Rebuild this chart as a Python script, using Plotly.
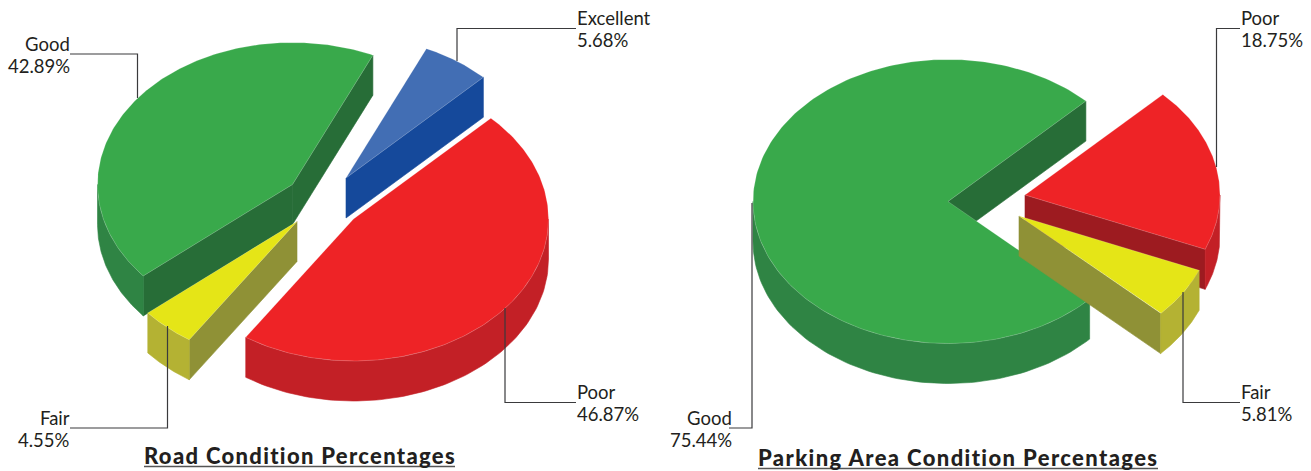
import numpy as np
import plotly.graph_objects as go

road_labels = ["Excellent", "Good", "Fair", "Poor"]
road_values = [5.68, 42.89, 4.55, 46.87]
parking_labels = ["Good", "Fair", "Poor"]
parking_values = [75.44, 5.81, 18.75]
road_title = "Road Condition Percentages"
parking_title = "Parking Area Condition Percentages"

W, H = 1311, 471
RX, RY, DEPTH = 195, 142, 40
FONT = "Lato"
TEXT = "#231f20"
COLORS = {
    "Excellent": ("#426eb4", "#426eb4", "#15499b"),
    "Good": ("#39a94b", "#2f8444", "#276d37"),
    "Fair": ("#e5e517", "#b4b233", "#8f9136"),
    "Poor": ("#ee2326", "#c32026", "#9d1b20"),
}
# layout of the exploded slices: apex pixel of each slice
ROAD_APEX = {"Excellent": (346, 178), "Good": (292.5, 184.5), "Fair": (297, 221.5), "Poor": (353.5, 219)}
PARK_APEX = {"Good": (948, 201.5), "Fair": (1019, 216), "Poor": (1025, 195)}
ROAD_ORDER = ["Excellent", "Good", "Poor", "Fair"]
PARK_ORDER = ["Good", "Poor", "Fair"]
START = {"road": 45.2, "park": 45.0}

fig = go.Figure()


def poly(xs, ys, color, name, seam=False):
    fig.add_trace(go.Scatter(
        x=list(xs), y=list(ys), mode="lines", fill="toself", fillcolor=color,
        line=dict(color="rgba(255,255,255,0.3)" if seam else color, width=0.6),
        name=name, hoverinfo="name", showlegend=False))


def rim(cx, cy, t):
    r = np.radians(t)
    return cx + RX * np.cos(r), cy - RY * np.sin(r)


def draw_pie(labels, values, apex, order, start):
    total = sum(values)
    spans = {}
    a = start
    for lab, v in zip(labels, values):
        spans[lab] = (a, a + v / total * 360)
        a = spans[lab][1]
    for lab in order:
        t0, t1 = spans[lab]
        cx, cy = apex[lab]
        top, outer, cut = COLORS[lab]
        # straight cut walls that face the viewer
        for t, vis in ((t0, np.cos(np.radians(t0)) > 0), (t1, np.cos(np.radians(t1)) < 0)):
            if vis:
                ex, ey = rim(cx, cy, t)
                poly([cx, ex, ex, cx, cx], [cy, ey, ey + DEPTH, cy + DEPTH, cy], cut, lab)
        # outer wall: the part of the rim on the near half
        for k in (0, 1):
            lo, hi = max(t0, 180 + 360 * k), min(t1, 360 + 360 * k)
            if hi > lo:
                ts = np.linspace(lo, hi, 90)
                xs, ys = rim(cx, cy, ts)
                poly(np.r_[xs, xs[::-1], xs[0]], np.r_[ys, ys[::-1] + DEPTH, ys[0]], outer, lab)
        # top face
        ts = np.linspace(t0, t1, 200)
        xs, ys = rim(cx, cy, ts)
        poly(np.r_[cx, xs, cx], np.r_[cy, ys, cy], top, lab, seam=True)


draw_pie(road_labels, road_values, ROAD_APEX, ROAD_ORDER, START["road"])
draw_pie(parking_labels, parking_values, PARK_APEX, PARK_ORDER, START["park"])

# leader lines and their labels: (label, value, path, text x, anchor, y name, y pct)
leaders = [
    ("Excellent", road_values[0], [(457, 61), (457, 28.5), (576, 28.5)], 575, "left", 17.5, 39.5),
    ("Good", road_values[1], [(137.5, 98), (137.5, 54), (70, 54)], 71.5, "right", 43.5, 65.5),
    ("Fair", road_values[2], [(167.5, 326), (167.5, 428), (70, 428)], 71.5, "right", 417.5, 440),
    ("Poor", road_values[3], [(505, 308), (505, 402.5), (576, 402.5)], 575, "left", 391.5, 414),
    ("Poor", parking_values[2], [(1216.5, 167), (1216.5, 28.5), (1240, 28.5)], 1238.5, "left", 17.5, 39.5),
    ("Fair", parking_values[1], [(1183, 292), (1183, 402.5), (1240, 402.5)], 1238.5, "left", 391.5, 414),
    ("Good", parking_values[0], [(752, 203), (752, 428), (729, 428)], 733.5, "right", 417.5, 440),
]
for lab, val, path, tx, anc, y1, y2 in leaders:
    fig.add_trace(go.Scatter(x=[p[0] for p in path], y=[p[1] for p in path], mode="lines",
                             line=dict(color="#3a3a3c", width=1.2), hoverinfo="skip", showlegend=False))
    for txt, yy in ((lab, y1), (f"{val:.2f}%", y2)):
        fig.add_annotation(x=tx, y=yy, text=txt, showarrow=False, xanchor=anc, yanchor="middle",
                           font=dict(family=FONT, size=18.5, color=TEXT))

# titles with their underlines
for title, x0, x1, yy, yu, sp in ((road_title, 144, 455, 455.5, 466.5, 1.32),
                                  (parking_title, 758, 1158, 457.5, 468.5, 1.38)):
    fig.add_annotation(x=(x0 + x1) / 2, y=yy, showarrow=False, xanchor="center", yanchor="middle",
                       text=f'<span style="letter-spacing:{sp}px">{title}</span>', borderpad=0,
                       font=dict(family=FONT, size=22, color=TEXT, weight=900))
    fig.add_trace(go.Scatter(x=[x0, x1], y=[yu, yu], mode="lines", line=dict(color="#555", width=1.6),
                             hoverinfo="skip", showlegend=False))

fig.update_layout(
    width=W, height=H, margin=dict(l=0, r=0, t=0, b=0), paper_bgcolor="white", plot_bgcolor="white",
    xaxis=dict(range=[0, W], visible=False, fixedrange=True),
    yaxis=dict(range=[H, 0], visible=False, fixedrange=True),
    showlegend=False,
)
fig.write_html("out.html", config={"displayModeBar": False},
               post_script="document.body.style.margin='0';document.documentElement.style.overflow='hidden';")
